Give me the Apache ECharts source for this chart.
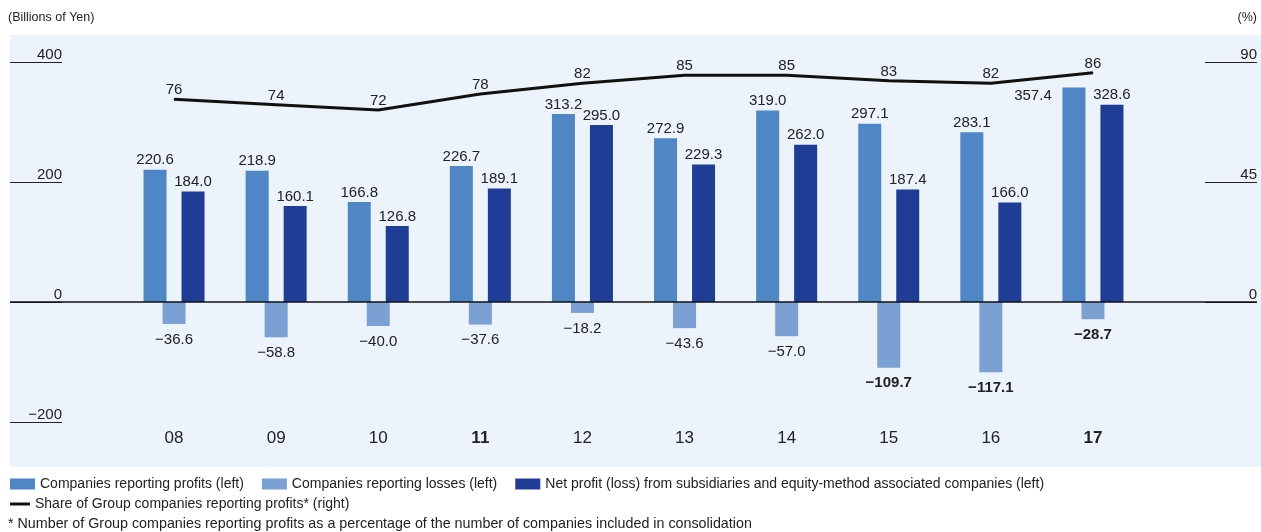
<!DOCTYPE html>
<html><head><meta charset="utf-8">
<script src="https://cdn.jsdelivr.net/npm/echarts@6/dist/echarts.min.js"></script>
<style>html,body{margin:0;padding:0;background:#fff}#c{width:1261px;height:532px}</style>
</head><body><div id="c"></div>
<script>
const categories = ['08','09','10','11','12','13','14','15','16','17'];
const boldCategories = ['11','17'];
const profits = [220.6,218.9,166.8,226.7,313.2,272.9,319.0,297.1,283.1,357.4];
const losses = [-36.6,-58.8,-40.0,-37.6,-18.2,-43.6,-57.0,-109.7,-117.1,-28.7];
const netProfit = [184.0,160.1,126.8,189.1,295.0,229.3,262.0,187.4,166.0,328.6];
const shareProfit = [76,74,72,78,82,85,85,83,82,86];
const boldLossIndex = [7,8,9];
const rightTicks = [0,45,90];
const names = ['Companies reporting profits (left)','Companies reporting losses (left)','Net profit (loss) from subsidiaries and equity-method associated companies (left)','Share of Group companies reporting profits* (right)'];

const FONT = "'Liberation Sans', Arial, Helvetica, sans-serif";
const TXT = '#222';
const fmt = v => (v < 0 ? '\u2212' : '') + Math.abs(v).toFixed(1);

const profitData = profits.map((v, i) => i === profits.length - 1
  ? {value: v, label: {offset: [-41, 18]}} : v);
const lossData = losses.map((v, i) => boldLossIndex.includes(i)
  ? {value: v, label: {fontWeight: 'bold'}} : v);

const chart = echarts.init(document.getElementById('c'));
const option = {
  animation: false,
  textStyle: {fontFamily: FONT},
  grid: {left: 123, right: 117, top: 62, bottom: 110},
  xAxis: {
    type: 'category', data: categories, boundaryGap: true,
    axisLine: {show: false}, axisTick: {show: false},
    axisLabel: {
      margin: 8, fontSize: 17, color: TXT, fontFamily: FONT,
      formatter: v => boldCategories.includes(v) ? '{b|' + v + '}' : v,
      rich: {b: {fontWeight: 'bold', fontSize: 17, color: TXT, fontFamily: FONT}}
    }
  },
  yAxis: [{
    type: 'value', position: 'left', min: -200, max: 400, interval: 200, offset: 61,
    axisLine: {show: false}, splitLine: {show: false},
    axisTick: {show: true, length: 52, lineStyle: {color: '#222', width: 1.2}},
    axisLabel: {margin: 0, verticalAlign: 'bottom', padding: [0, 0, 0, 0], fontSize: 15, color: TXT, fontFamily: FONT,
      formatter: v => (v < 0 ? '\u2212' : '') + Math.abs(v)}
  }, {
    type: 'value', position: 'right', min: -45, max: 90, interval: 45, offset: 61,
    axisLine: {show: false}, splitLine: {show: false},
    axisTick: {show: true, length: 52, customValues: rightTicks, lineStyle: {color: '#222', width: 1.2}},
    axisLabel: {margin: 52, align: 'right', verticalAlign: 'bottom', padding: [0, 0, 0, 0], fontSize: 15, color: TXT, fontFamily: FONT,
      customValues: rightTicks}
  }],
  legend: [{
    left: 10, top: 477, padding: 0, icon: 'rect', itemWidth: 25, itemHeight: 11, itemGap: 18,
    textStyle: {fontSize: 14, color: TXT, fontFamily: FONT},
    data: names.slice(0, 3)
  }, {
    left: 10, top: 497, padding: 0, icon: 'rect', itemWidth: 20, itemHeight: 3,
    textStyle: {fontSize: 14, color: TXT, fontFamily: FONT},
    data: [names[3]]
  }],
  series: [{
    name: names[0], type: 'bar', data: profitData, barWidth: 23, barGap: '-17.4%',
    itemStyle: {color: '#4E86C6'},
    label: {show: true, position: 'top', distance: 2, fontSize: 15, color: TXT, fontFamily: FONT, formatter: p => fmt(p.value)}
  }, {
    name: names[1], type: 'bar', data: lossData, barWidth: 23, barGap: '-17.4%',
    itemStyle: {color: '#7BA0D4'},
    label: {show: true, position: 'bottom', distance: 8, fontSize: 15, color: TXT, fontFamily: FONT, formatter: p => fmt(p.value)}
  }, {
    name: names[2], type: 'bar', data: netProfit, barWidth: 23, barGap: '-17.4%',
    itemStyle: {color: '#1F3C96'},
    label: {show: true, position: 'top', distance: 2, fontSize: 15, color: TXT, fontFamily: FONT, formatter: p => fmt(p.value)}
  }, {
    name: names[3], type: 'line', yAxisIndex: 1, data: shareProfit, z: 5,
    symbol: 'circle', symbolSize: 1, showSymbol: true,
    lineStyle: {color: '#111', width: 3}, itemStyle: {color: '#111'},
    label: {show: true, position: 'top', distance: 1, fontSize: 15, color: TXT, fontFamily: FONT}
  }]
};
chart.setOption(option);
const y0 = chart.convertToPixel({yAxisIndex: 0}, 0);
chart.setOption({
  graphic: [
    {id: 'bg', type: 'rect', z: -10, silent: true, shape: {x: 10, y: 35, width: 1251, height: 432}, style: {fill: '#ECF3FB'}},
    {id: 'base', type: 'line', z: 10, silent: true, shape: {x1: 10, y1: y0, x2: 1257, y2: y0}, style: {stroke: '#111', lineWidth: 1.5}},
    {id: 'unitL', type: 'text', left: 8, top: 11, style: {text: '(Billions of Yen)', fontSize: 12.5, fill: TXT, fontFamily: FONT}},
    {id: 'unitR', type: 'text', right: 4, top: 11, style: {text: '(%)', fontSize: 12.5, fill: TXT, fontFamily: FONT}},
    {id: 'note', type: 'text', left: 8, top: 517, style: {text: '* Number of Group companies reporting profits as a percentage of the number of companies included in consolidation', fontSize: 14.3, fill: TXT, fontFamily: FONT}}
  ]
});
</script></body></html>
